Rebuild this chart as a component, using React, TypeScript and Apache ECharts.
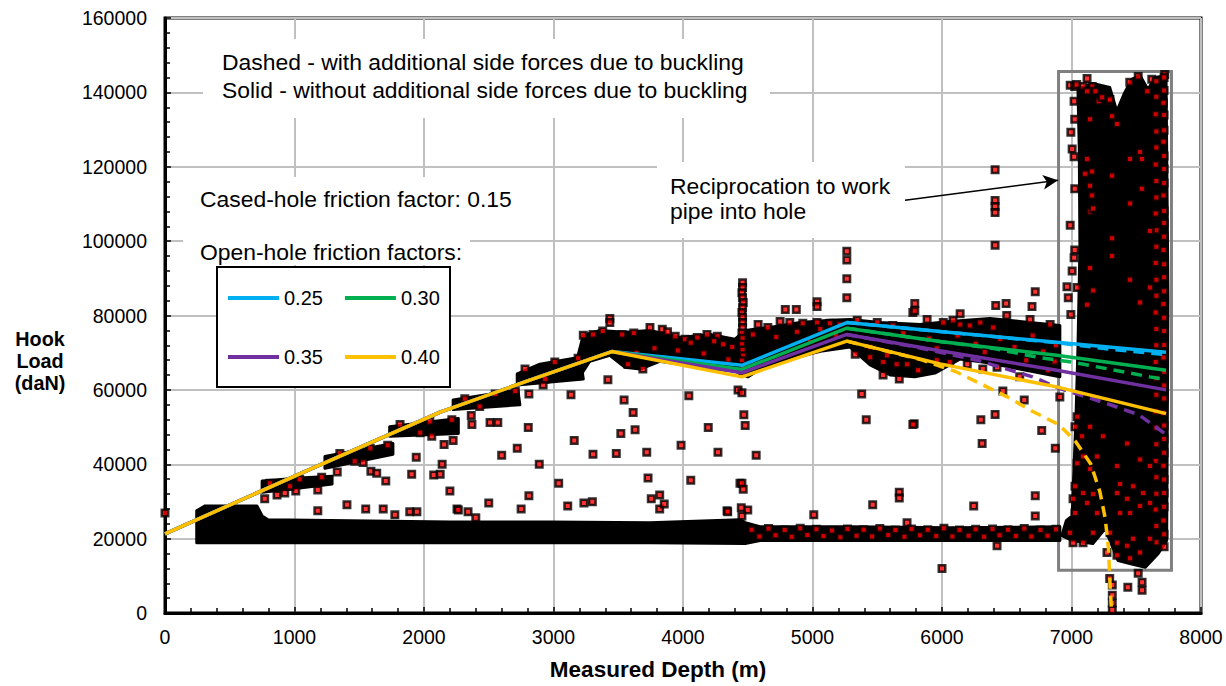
import { useEffect, useRef } from "react";
import * as echarts from "echarts";

const FONT = '"Liberation Sans", Arial, sans-serif';

// ---------- axes ----------
const depthMin = 0;
const depthMax = 8000;
const depthStep = 1000;
const loadMin = 0;
const loadMax = 160000;
const loadStep = 20000;

// ---------- texts ----------
const xTitle = "Measured Depth (m)";
const yTitle = "Hook\nLoad\n(daN)";
const noteDashed = "Dashed - with additional side forces due to buckling";
const noteSolid = "Solid - without additional side forces due to buckling";
const noteCased = "Cased-hole friction factor: 0.15";
const noteOpen = "Open-hole friction factors:";
const noteRecip1 = "Reciprocation to work";
const noteRecip2 = "pipe into hole";

// ---------- model curves (solid: without buckling side forces) ----------
const frictionNames = ["0.25", "0.30", "0.35", "0.40"];
const frictionColors = ["#00b0f0", "#00b050", "#7030a0", "#ffc000"];
const modelDepths = [0, 1040, 2125, 2800, 3450, 4455, 5265, 5985, 6885, 7730];
const solid025 = [21300, 37400, 54000, 62400, 70300, 66600, 78100, 75700, 72800, 70100];
const solid030 = [21300, 37400, 54000, 62400, 70300, 65500, 76600, 73000, 69300, 65300];
const solid035 = [21300, 37400, 54000, 62400, 70300, 64600, 74900, 70500, 65300, 60000];
const solid040 = [21300, 37400, 54000, 62400, 70300, 63500, 73100, 67000, 60800, 53600];

// ---------- model curves (dashed: with buckling side forces), [depth, load] ----------
const dashed025 = [[5265, 78100], [5985, 75700], [6885, 72700], [7300, 70900], [7730, 69500]];
const dashed030 = [[5265, 76600], [5985, 73000], [6400, 71100], [6735, 68800], [7000, 67500], [7605, 63500], [7730, 62800]];
const dashed035 = [[5265, 74900], [5800, 71500], [6290, 67800], [6700, 63500], [6900, 60500], [7300, 56000], [7520, 53300], [7730, 48000]];
const dashed040 = [[5265, 73100], [5600, 70200], [5850, 68000], [6100, 65000], [6300, 61600], [6500, 58200], [6700, 54200], [6900, 50700], [7030, 46200], [7150, 40000], [7220, 32500], [7260, 25500], [7285, 17500], [7300, 6000], [7310, 0]];

// ---------- measured hook load: dense clouds (outlines, [depth, load]) ----------
const lowerBandCloud = [[245, 27500], [310, 28800], [710, 28800], [750, 26100], [795, 25100], [1430, 24800], [2200, 24500], [2975, 24500], [3745, 24300], [4440, 25100], [4480, 24300], [4595, 23200], [5290, 23200], [6060, 22900], [6910, 23200], [6910, 19500], [6060, 19500], [5290, 19500], [4595, 19500], [4480, 18700], [3745, 18900], [2975, 18900], [2200, 18900], [1430, 18900], [750, 18900], [245, 18900]];
const rampCloudA = [[750, 35500], [1040, 36300], [1290, 36800], [1290, 34700], [1040, 33600], [750, 32500]];
const rampCloudB = [[1235, 42100], [1760, 45600], [1760, 42700], [1235, 38900]];
const rampCloudC = [[1735, 50100], [2265, 52300], [2265, 48300], [1735, 47500]];
const rampCloudD = [[2225, 57300], [2725, 60000], [2740, 56000], [2225, 54700]];
const rampCloudE = [[2720, 64300], [2895, 66900], [3205, 68800], [3230, 62900], [2720, 61300]];
const upperCloud = [[3190, 69300], [3230, 74700], [3360, 76000], [3550, 75500], [3745, 76000], [3975, 74100], [4210, 74900], [4400, 73600], [4480, 76000], [4670, 76800], [4905, 78100], [5135, 78700], [5290, 78900], [5520, 78100], [5830, 77600], [6060, 78400], [6370, 79200], [6600, 78400], [6910, 77300],
  [6910, 63500], [6600, 65600], [6370, 67200], [6140, 68300], [5945, 64500], [5790, 63500], [5600, 64000], [5445, 66700], [5290, 71500], [5060, 70400], [4825, 68300], [4595, 65600], [4500, 63500], [4400, 65100], [4130, 66100], [3820, 67700], [3670, 65600], [3550, 66100], [3435, 69300], [3280, 67700], [3190, 62900]];
const reciprocationCloud = [[7050, 140800], [7165, 142400], [7295, 141300], [7350, 134900], [7405, 139500], [7465, 143500], [7530, 144500], [7590, 140800], [7645, 144000], [7730, 144500], [7745, 84800], [7735, 19500], [7670, 16000], [7570, 12300], [7450, 13300], [7360, 14100], [7260, 22700], [7165, 18700], [7005, 19500], [6925, 20800], [6960, 24800], [7005, 26100], [7020, 39500], [7035, 52800], [7050, 71500], [7065, 98100], [7060, 124800]];

// ---------- measured hook load: individual points, [depth, load] ----------
const startPoint = [[0, 26900]];
const rampOutliers = [[770, 30700], [865, 31700], [925, 32300], [1010, 32800], [1180, 33100], [1180, 27500], [1330, 37900], [1405, 29100], [1530, 40500], [1550, 28000], [1590, 38100], [1635, 37600], [1685, 28000], [1705, 35500], [1775, 26400], [1890, 27200], [1945, 27200], [1905, 37300], [1940, 41900], [2060, 47500], [2075, 37100], [2125, 37300], [2140, 40000], [2155, 45300], [2200, 32800], [2225, 46400], [2255, 28000], [2365, 53100], [2370, 50700], [2510, 51200], [2570, 51200], [2720, 44300], [2600, 42400], [2805, 49900], [2810, 58900], [2890, 40000], [2920, 61300], [3040, 34900], [3135, 58700], [3160, 46400], [3305, 42700], [3420, 62700], [3435, 79200], [3435, 78100], [3485, 42900], [3520, 48300], [3545, 57300], [3615, 53900], [3630, 49300], [3720, 43200], [3730, 36300], [3755, 30700], [3820, 31700], [3820, 28000], [3855, 29300], [3985, 45100], [4045, 58400], [4060, 35700], [4195, 49900], [4270, 43200], [4340, 27500], [4440, 34900], [4425, 60000], [2265, 27700], [2340, 27200], [2400, 25600], [2500, 29600], [2750, 28000], [2810, 31500], [3110, 28800], [3235, 29600], [3300, 29900]];
const rampClusterDots = [[810, 34900], [1040, 36000], [1210, 36500], [965, 34100], [1350, 42900], [1585, 44300], [1720, 45100], [1465, 40800], [1815, 50700], [2045, 51500], [2215, 52000], [1970, 48500], [2315, 57600], [2550, 58900], [2705, 59700], [2430, 55500], [2780, 65600], [3010, 67500], [3190, 68500], [2935, 62900]];
const spikeDots = [[4460, 88800], [4460, 87500], [4455, 86100], [4460, 84800], [4465, 83500], [4460, 82100], [4455, 80800], [4460, 79500], [4460, 78100], [4460, 76800], [4455, 75300], [4460, 73900], [4455, 72300], [4460, 70700], [4465, 69200], [4455, 67800], [4460, 66300], [4460, 64700]];
const upperCloudDots = [[3230, 74700], [3305, 74900], [3530, 74900], [3745, 76800], [3840, 76300], [3940, 74400], [4015, 73600], [4110, 74100], [4185, 74900], [4265, 74400], [4310, 72300], [4380, 71500], [4580, 77600], [4655, 76800], [4750, 78400], [4825, 78100], [4925, 77900], [5035, 78100], [5135, 77900], [5210, 77600], [5330, 69600], [5445, 68800], [5545, 67500], [5650, 66900], [5775, 80800], [5885, 78900], [6010, 78100], [6140, 77600], [6295, 78100], [6395, 76800], [5960, 68000], [6060, 67500], [6195, 66900], [6315, 65600], [4540, 74900], [5345, 78700], [5500, 78100], [5620, 77300], [6085, 78700], [6215, 77300], [6500, 80000], [6680, 78900], [6835, 77600], [5445, 71500], [5575, 69300], [5730, 66900], [5830, 65300], [6425, 66100], [6600, 63500], [6820, 65300], [3690, 65600], [3575, 66900],
  [3380, 75800], [3620, 75300], [3880, 75600], [4060, 72700], [4240, 73100], [3780, 71200], [3960, 70600], [4160, 69800], [4350, 68200], [3640, 69900], [4720, 74200], [4880, 75600], [5060, 76400], [4980, 72900], [5180, 74800], [5700, 75200], [5900, 73800], [6120, 74600], [6260, 72400], [6450, 73700], [6560, 71500], [6700, 74600], [6780, 70300], [6880, 72000], [5960, 71200], [6330, 70200], [6650, 68000], [6870, 67600]];
const upperOutliers = [[4455, 59200], [4470, 53300], [4480, 50400], [4790, 81600], [4875, 81600], [5035, 83700], [5035, 82400], [5265, 97300], [5265, 94900], [5265, 89900], [5265, 84800], [5380, 58900], [5415, 52000], [5545, 64000], [5670, 62900], [5790, 83200], [5790, 81300], [5785, 50900], [6140, 80500], [6300, 52000], [6310, 45600], [6410, 53400], [6410, 98900], [6410, 119200], [6410, 110900], [6410, 109300], [6410, 107700], [4565, 42400], [4455, 34900], [4465, 33300], [4345, 27200], [4450, 28300], [4500, 27700], [4455, 26100], [5010, 26400], [5465, 29100], [5670, 32500], [5670, 30900], [5730, 24300], [5775, 50700], [5815, 65300], [6245, 28800], [6415, 82700], [6470, 59700], [6495, 83200], [6635, 57300], [6720, 86400], [6695, 82400], [6720, 31500], [6720, 26100], [6770, 49100], [6875, 44300], [6425, 18100], [6000, 12000], [6910, 58100]];
const lowerBandDots = [[4530, 22400], [4590, 20600], [4660, 22700], [4715, 20900], [4785, 22300], [4840, 20500], [4905, 22800], [4960, 21000], [5030, 22500], [5085, 20700], [5150, 22200], [5215, 20400], [5270, 22600], [5340, 20800], [5395, 22400], [5460, 20600], [5520, 22700], [5585, 21000], [5640, 22300], [5710, 20500], [5765, 22600], [5830, 20900], [5890, 22400], [5955, 20700], [6015, 22800], [6080, 20600], [6135, 22300], [6205, 20800], [6260, 22500], [6325, 20500], [6390, 22600], [6445, 20900], [6510, 22400], [6570, 20700], [6635, 22700], [6690, 20600], [6760, 22300], [6815, 20800], [6880, 22500]];
const reciprocationEdgeDots = [[6990, 141900], [7025, 141600], [7020, 137600], [7025, 132800], [6995, 129300], [7005, 124800], [7020, 122700], [7025, 114100], [6990, 104300], [7025, 97600], [7020, 95500], [7005, 92000], [6965, 87700], [6975, 84800], [6995, 80300], [7040, 142100], [7090, 141600], [7120, 143700], [7160, 141600], [7185, 140300], [7210, 137600], [7290, 137600], [7515, 144300], [7620, 143500], [7720, 144800], [7450, 142700], [7585, 140300]];
const reciprocationColumnA = [[7715, 144000], [7715, 140500], [7710, 137200], [7715, 133900], [7715, 129800], [7710, 126700], [7715, 122900], [7715, 119400], [7715, 115600], [7710, 112300], [7715, 108100], [7715, 104900], [7715, 101200], [7710, 97600], [7715, 93800], [7715, 90300], [7715, 86500], [7710, 83100], [7715, 79400], [7715, 75800], [7715, 72100], [7710, 68700], [7715, 64900], [7715, 61200], [7715, 57700], [7710, 53800], [7715, 50400], [7715, 46800], [7715, 43100], [7710, 39600], [7715, 35900], [7715, 32300], [7715, 28600], [7710, 24900], [7715, 21200], [7715, 17800]];
const reciprocationColumnB = [[7655, 143000], [7655, 138800], [7650, 134100], [7655, 129500], [7655, 125200], [7650, 120600], [7655, 116200], [7655, 111700], [7650, 107400], [7655, 102900], [7655, 98500], [7650, 94100], [7655, 89600], [7655, 85300], [7650, 80800], [7655, 76400], [7655, 72000], [7650, 67500], [7655, 63100], [7655, 58700], [7650, 54200], [7655, 49800], [7655, 45400], [7650, 40900], [7655, 36500], [7655, 32100], [7650, 27800], [7655, 23400], [7655, 19000]];
const reciprocationInteriorDots = [[7120, 140300], [7143, 132800], [7236, 138700], [7297, 138100], [7313, 133600], [7351, 131500], [7120, 122100], [7158, 118700], [7104, 118100], [7143, 114900], [7158, 112300], [7313, 117600], [7452, 110100], [7529, 124000], [7544, 122100], [7452, 122100], [7143, 108000], [7166, 108800], [7313, 100800], [7544, 114100], [7606, 102700], [7143, 92800], [7452, 89600], [7529, 83500], [7606, 87500], [7120, 82900], [7166, 86700], [7313, 96000], [7043, 87500],
  [7043, 52800], [7027, 50100], [7081, 47500], [7089, 42100], [7043, 40300], [7143, 38700], [7027, 34100], [7089, 32300], [7166, 32000], [7012, 30700], [7120, 29600], [7197, 26900], [7027, 26900], [7375, 34700], [7351, 32300], [7475, 34100], [7429, 30700], [7552, 32300], [7529, 28800], [7452, 26900], [7375, 26900], [7606, 29600], [7297, 21600], [7351, 18900], [7429, 18100], [7529, 16300], [7452, 14700], [7606, 20000], [7475, 20000], [7351, 15500], [7274, 16300], [7166, 21600], [7089, 18900], [6988, 21600], [7012, 18900], [7351, 39500], [7197, 42100], [7529, 41300], [7606, 39500], [7429, 45600], [7243, 47500], [7143, 50100]];
const belowBlockDots = [[7295, 9300], [7435, 6900], [7545, 8300], [7545, 6100], [7515, 10700], [7315, 7500], [7315, 4800], [7315, 2700], [7315, 800]];

// ---------- annotations (data units) ----------
const reciprocationBox = [6900, 11500, 7772, 145600];
const arrowFrom = [5714, 111000];
const arrowTo = [6896, 116350];

const measuredPoints = [
  ...startPoint, ...rampOutliers, ...rampClusterDots, ...spikeDots, ...upperCloudDots,
  ...upperOutliers, ...lowerBandDots, ...reciprocationEdgeDots, ...reciprocationColumnA,
  ...reciprocationColumnB, ...reciprocationInteriorDots, ...belowBlockDots,
];

function cloudSeries(name: string, poly: number[][]) {
  return {
    type: "custom",
    name,
    coordinateSystem: "cartesian2d",
    data: poly,
    encode: { x: 0, y: 1 },
    silent: true,
    z: 2,
    renderItem: (params: any, api: any) => {
      if (params.dataIndex !== 0) return null;
      return {
        type: "polygon",
        shape: { points: poly.map((p) => api.coord(p)) },
        style: { fill: "#000", stroke: "#000", lineWidth: 3, lineJoin: "round" },
      };
    },
  };
}

export default function App() {
  const ref = useRef<HTMLDivElement>(null);

  useEffect(() => {
    if (!ref.current) return;
    const chart = echarts.init(ref.current, null, { renderer: "svg" });

    const solids = [solid025, solid030, solid035, solid040];
    const dashes = [dashed025, dashed030, dashed035, dashed040];

    const solidSeries = solids.map((vals, i) => ({
      type: "line",
      name: frictionNames[i],
      data: modelDepths.map((d, k) => [d, vals[k]]),
      showSymbol: false,
      symbol: "none",
      silent: true,
      z: 5,
      color: frictionColors[i],
      itemStyle: { color: frictionColors[i] },
      lineStyle: { color: frictionColors[i], width: 3.5 },
    }));
    const dashedSeries = dashes.map((pts, i) => ({
      type: "line",
      name: frictionNames[i] + " (buckling)",
      data: pts,
      showSymbol: false,
      symbol: "none",
      silent: true,
      z: 4,
      color: frictionColors[i],
      lineStyle: { color: frictionColors[i], width: 3.5, type: [11, 7] },
    }));

    const legendCommon = {
      left: 228,
      icon: "rect",
      itemWidth: 51,
      itemHeight: 4,
      itemGap: 22,
      padding: 0,
      selectedMode: false,
      z: 20,
      textStyle: { fontSize: 20, fontFamily: FONT, color: "#000" },
    };

    const textStyle = { fontSize: 22.9, fontFamily: FONT, fill: "#000", verticalAlign: "middle", align: "left" };
    const plain = (v: number) => String(v);

    chart.setOption({
      animation: false,
      backgroundColor: "#fff",
      textStyle: { fontFamily: FONT },
      grid: { left: 165, top: 18, width: 1036, height: 600, show: true, borderColor: "#000", borderWidth: 3, backgroundColor: "transparent" },
      legend: [
        { ...legendCommon, top: 288, data: ["0.25", "0.30"] },
        { ...legendCommon, top: 347, data: ["0.35", "0.40"] },
      ],
      xAxis: {
        type: "value",
        min: depthMin,
        max: depthMax,
        interval: depthStep,
        name: xTitle,
        nameLocation: "middle",
        nameGap: 45,
        nameTextStyle: { fontSize: 22.5, fontWeight: "bold", color: "#000", fontFamily: FONT, padding: [0, 50, 0, 0] },
        axisLine: { show: true, lineStyle: { color: "#000", width: 3 } },
        axisTick: { show: true, inside: true, length: 6, lineStyle: { color: "#000", width: 1.5 } },
        minorTick: { show: true, splitNumber: 5, length: 5, lineStyle: { color: "#000", width: 1.5 } },
        axisLabel: { fontSize: 19.5, color: "#000", margin: 14, fontFamily: FONT, formatter: plain },
        splitLine: { show: true, lineStyle: { color: "#c0c0c0", width: 2 } },
      },
      yAxis: {
        type: "value",
        min: loadMin,
        max: loadMax,
        interval: loadStep,
        axisLine: { show: true, lineStyle: { color: "#000", width: 3 } },
        axisTick: { show: true, inside: true, length: 6, lineStyle: { color: "#000", width: 1.5 } },
        minorTick: { show: true, splitNumber: 5, length: 5, lineStyle: { color: "#000", width: 1.5 } },
        axisLabel: { fontSize: 19.5, color: "#000", margin: 18, fontFamily: FONT, formatter: plain },
        splitLine: { show: true, lineStyle: { color: "#c0c0c0", width: 2 } },
      },
      series: [
        cloudSeries("lower band", lowerBandCloud),
        cloudSeries("ramp A", rampCloudA),
        cloudSeries("ramp B", rampCloudB),
        cloudSeries("ramp C", rampCloudC),
        cloudSeries("ramp D", rampCloudD),
        cloudSeries("ramp E", rampCloudE),
        cloudSeries("upper", upperCloud),
        cloudSeries("reciprocation", reciprocationCloud),
        {
          type: "scatter",
          name: "Measured hook load",
          data: measuredPoints,
          symbol: "rect",
          symbolSize: 6.5,
          silent: true,
          z: 3,
          itemStyle: { color: "#ff0000", borderColor: "#000", borderWidth: 2.5 },
        },
        ...dashedSeries,
        ...solidSeries,
        {
          type: "scatter",
          name: "annotations",
          data: [],
          silent: true,
          z: 6,
          markArea: {
            silent: true,
            label: { show: false },
            itemStyle: { color: "rgba(0,0,0,0)", borderColor: "#808080", borderWidth: 3 },
            data: [[{ coord: [reciprocationBox[0], reciprocationBox[1]] }, { coord: [reciprocationBox[2], reciprocationBox[3]] }]],
          },
          markLine: {
            silent: true,
            symbol: ["none", "arrow"],
            symbolSize: [11, 15],
            label: { show: false },
            lineStyle: { color: "#000", width: 1.5, type: "solid" },
            data: [[{ coord: arrowFrom }, { coord: arrowTo }]],
          },
        },
      ],
      graphic: [
        { type: "text", z: 11, x: 40, y: 361, style: { text: yTitle, fontSize: 19.8, fontWeight: "bold", fontFamily: FONT, fill: "#000", align: "center", verticalAlign: "middle", lineHeight: 22 } },
        { type: "rect", z: 10, shape: { x: 203, y: 39, width: 567, height: 79 }, style: { fill: "#fff" } },
        { type: "text", z: 11, x: 222, y: 62, style: { ...textStyle, text: noteDashed } },
        { type: "text", z: 11, x: 222, y: 90, style: { ...textStyle, text: noteSolid } },
        { type: "rect", z: 10, shape: { x: 183, y: 177, width: 287, height: 88 }, style: { fill: "#fff" } },
        { type: "text", z: 11, x: 200, y: 199, style: { ...textStyle, text: noteCased } },
        { type: "text", z: 11, x: 200, y: 252, style: { ...textStyle, text: noteOpen } },
        { type: "rect", z: 12, shape: { x: 217, y: 267, width: 233, height: 120 }, style: { fill: "#fff", stroke: "#000", lineWidth: 2 } },
        { type: "rect", z: 10, shape: { x: 657, y: 162, width: 248, height: 76 }, style: { fill: "#fff" } },
        { type: "text", z: 11, x: 670, y: 186, style: { ...textStyle, text: noteRecip1 } },
        { type: "text", z: 11, x: 670, y: 211, style: { ...textStyle, text: noteRecip2 } },
      ],
    });

    return () => chart.dispose();
  }, []);

  return <div ref={ref} style={{ position: "fixed", left: 0, top: 0, width: 1226, height: 686, background: "#fff" }} />;
}
